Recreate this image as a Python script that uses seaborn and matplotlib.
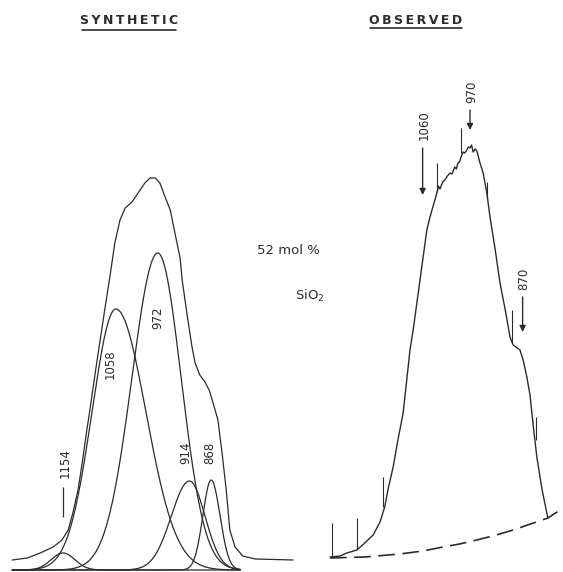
import numpy as np
import pandas as pd
import seaborn as sns
import matplotlib
matplotlib.use('Agg')
import matplotlib.pyplot as plt
from matplotlib.lines import Line2D

# synthetic bands: centre (cm-1), peak height,
# half-width on the high- and low-wavenumber side (gaussian sigma, cm-1)
band_labels = ['1154', '1058', '972', '914', '868']
band_centers = [1154, 1052, 971, 910, 868]
band_heights = [17, 261, 317, 89, 90]
band_sigma_hi = [23, 46, 50, 35, 16]
band_sigma_lo = [23, 58, 45, 30, 17]

# synthetic envelope
env_wavenumber = [1252, 1223, 1198, 1173, 1156, 1144, 1135, 1125, 1117, 1108,
                  1103, 1089, 1075, 1063, 1054, 1044, 1034, 1021, 1009, 996,
                  986, 976, 967, 957, 947, 938, 928, 924, 915, 905,
                  899, 890, 880, 872, 866, 855, 847, 839, 832, 822,
                  807, 783, 710]
env_intensity = [10, 12, 17, 23, 30, 40, 57, 80, 107, 140,
                 157, 207, 255, 295, 327, 350, 362, 368, 377, 387,
                 392, 392, 387, 373, 360, 337, 312, 290, 257, 223,
                 207, 195, 188, 180, 170, 150, 117, 80, 40, 23,
                 14, 11, 10]

# observed spectrum
obs_wavenumber = [1236, 1217, 1204, 1185, 1170, 1154, 1141, 1132, 1126, 1116,
                  1107, 1097, 1084, 1078, 1065, 1052, 1046, 1033, 1030, 1027,
                  1022, 1018, 1013, 1008, 1004, 999, 996, 993, 990, 987,
                  983, 980, 976, 973, 970, 967, 964, 960, 957, 951,
                  945, 938, 932, 922, 913, 903, 894, 888, 875, 869,
                  862, 856, 850, 843, 833, 822]
obs_intensity = [13, 14, 17, 20, 27, 35, 48, 63, 80, 103,
                 130, 157, 220, 240, 290, 340, 353, 377, 384, 381,
                 388, 390, 394, 397, 396, 403, 401, 407, 408, 413,
                 418, 417, 420, 423, 422, 425, 418, 421, 419, 407,
                 397, 377, 353, 320, 287, 260, 233, 225, 220, 210,
                 193, 175, 145, 113, 80, 52]

# dashed background under the observed trace
bg_wavenumber = [1236, 1170, 1103, 1060, 1021, 990, 957, 920, 888, 855, 822, 793]
bg_intensity = [12, 13, 16, 19, 23, 26, 30, 35, 40, 46, 52, 62]

# pen marks on the recorder trace
mark_wavenumber = [1232, 1185, 1135, 1033, 987, 938, 890, 845]
mark_low = [13, 20, 63, 378, 417, 370, 228, 130]
mark_high = [47, 52, 93, 407, 442, 388, 260, 153]

# arrows on the observed trace
arrow_labels = ['1060', '970', '870']
arrow_wavenumber = [1060, 970, 870]
arrow_top = [422, 460, 273]
arrow_tip = [375, 440, 238]

sns.set_style('white')
plt.rcParams['font.family'] = ['DejaVu Sans']

ink = '#2b2b2b'
fig = plt.figure(figsize=(5.63, 5.72), dpi=100)
fig.patch.set_facecolor('white')

ax1 = fig.add_axes([0, 0, 300 / 563, 1])
ax2 = fig.add_axes([300 / 563, 0, 263 / 563, 1])
for ax in (ax1, ax2):
    ax.set_axis_off()
    ax.set_ylim(-2, 570)
ax1.set_xlim(1275.6, 696.6)
ax2.set_xlim(1293, 793.3)

# --- synthetic ---
grid = np.linspace(1252, 812, 700)
for c, h, s_hi, s_lo in zip(band_centers, band_heights, band_sigma_hi, band_sigma_lo):
    s = np.where(grid > c, s_hi, s_lo)
    y = h * np.exp(-0.5 * ((grid - c) / s) ** 2)
    sns.lineplot(x=grid, y=y, ax=ax1, color=ink, lw=0.9, sort=False, estimator=None)

sns.lineplot(x=env_wavenumber, y=env_intensity, ax=ax1, color=ink, lw=0.9,
             sort=False, estimator=None)

lbl_pos = {'1154': (1150, 107), '1058': (1063, 206), '972': (972, 252),
           '914': (918, 117), '868': (870, 117)}
for lab in band_labels:
    x, y = lbl_pos[lab]
    ax1.text(x, y, lab, rotation=90, ha='center', va='center', fontsize=8.5, color=ink)
ax1.vlines(1154, 53, 83, color=ink, lw=0.9)

# --- observed ---
sns.lineplot(x=obs_wavenumber, y=obs_intensity, ax=ax2, color=ink, lw=1.0,
             sort=False, estimator=None)
sns.lineplot(x=bg_wavenumber, y=bg_intensity, ax=ax2, color=ink, lw=1.2,
             sort=False, estimator=None).lines[-1].set_dashes((10, 4.5))
ax2.vlines(mark_wavenumber, mark_low, mark_high, color=ink, lw=0.8)

lbl_y = [445, 478, 291]
for lab, w, top, tip, ly in zip(arrow_labels, arrow_wavenumber, arrow_top, arrow_tip, lbl_y):
    ax2.annotate('', xy=(w, tip), xytext=(w, top),
                 arrowprops=dict(arrowstyle='-|>', color=ink, lw=1.0,
                                 mutation_scale=9, shrinkA=0, shrinkB=0))
    ax2.text(w - 3, ly, lab, rotation=90, ha='center', va='center', fontsize=8.5, color=ink)

# --- titles and annotation ---
thin = '\u2009'
fig.text(129 / 563, 1 - 21 / 572, thin.join('SYNTHETIC'), ha='center', va='center',
         fontsize=9, fontweight='bold', color=ink)
fig.text(416 / 563, 1 - 20 / 572, thin.join('OBSERVED'), ha='center', va='center',
         fontsize=9, fontweight='bold', color=ink)
fig.add_artist(Line2D([82 / 563, 176 / 563], [1 - 30 / 572] * 2, color=ink, lw=1.2))
fig.add_artist(Line2D([370 / 563, 462 / 563], [1 - 28 / 572] * 2, color=ink, lw=1.2))

fig.text(288 / 563, 1 - 251 / 572, '52 mol %', ha='center', va='center',
         fontsize=9.5, color=ink)
fig.text(295 / 563, 1 - 296 / 572, 'SiO$_2$', ha='left', va='center',
         fontsize=9.5, color=ink)

fig.savefig('out.png', dpi=100, facecolor='white')
